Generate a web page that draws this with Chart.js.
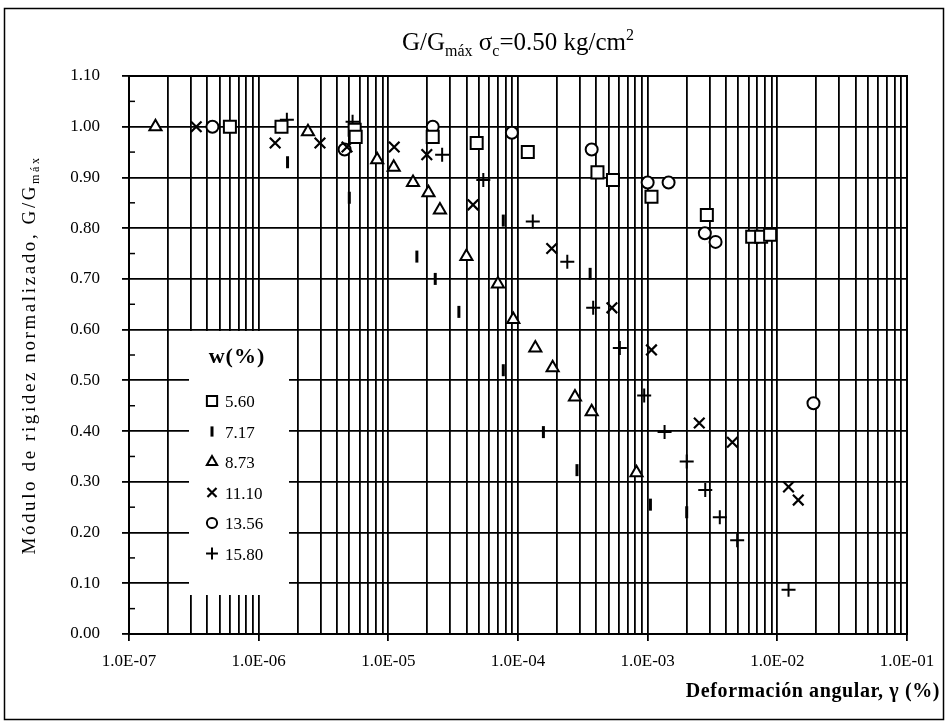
<!DOCTYPE html>
<html>
<head>
<meta charset="utf-8">
<title>G/Gmáx σc=0.50 kg/cm2</title>
<script src="https://cdn.jsdelivr.net/npm/chart.js@4.4.1/dist/chart.umd.min.js"></script>
<style>
  html, body { margin: 0; padding: 0; background: #fff; }
</style>
</head>
<body>
<canvas id="chart" width="947" height="724"></canvas>
<script>
// Values: angular strain (%) and G/Gmax, one pair per water content
const legendLabels = ["5.60", "7.17", "8.73", "11.10", "13.56", "15.80"];

const strain560 = [6.0e-7, 1.5e-6, 5.5e-6, 5.6e-6, 2.2e-5, 4.8e-5, 1.19e-4, 4.1e-4, 5.4e-4, 1.07e-3, 2.86e-3, 6.4e-3, 7.5e-3, 8.8e-3];
const ratio560  = [1.00, 1.00, 0.994, 0.98, 0.98, 0.968, 0.95, 0.91, 0.895, 0.862, 0.826, 0.783, 0.783, 0.787];

const strain717 = [1.67e-6, 5.0e-6, 1.66e-5, 2.3e-5, 3.5e-5, 7.7e-5, 7.7e-5, 1.57e-4, 3.6e-4, 2.85e-4, 1.05e-3, 2.0e-3];
const ratio717  = [0.93, 0.86, 0.744, 0.70, 0.635, 0.815, 0.52, 0.398, 0.71, 0.323, 0.255, 0.24];

const strain873 = [1.6e-7, 2.4e-6, 8.2e-6, 1.1e-5, 1.55e-5, 2.04e-5, 2.5e-5, 4.0e-5, 7.0e-5, 9.2e-5, 1.36e-4, 1.85e-4, 2.75e-4, 3.7e-4, 8.2e-4];
const ratio873  = [1.00, 0.99, 0.935, 0.92, 0.89, 0.87, 0.836, 0.744, 0.69, 0.62, 0.564, 0.525, 0.467, 0.438, 0.318];

const strain1110 = [3.3e-7, 1.34e-6, 2.97e-6, 4.8e-6, 1.11e-5, 1.98e-5, 4.5e-5, 1.82e-4, 5.3e-4, 1.07e-3, 2.5e-3, 4.5e-3, 1.22e-2, 1.45e-2];
const ratio1110  = [1.00, 0.968, 0.968, 0.96, 0.96, 0.945, 0.846, 0.76, 0.643, 0.56, 0.416, 0.378, 0.29, 0.264];

const strain1356 = [4.4e-7, 4.6e-6, 2.2e-5, 8.97e-5, 3.7e-4, 1.0e-3, 1.45e-3, 2.76e-3, 3.34e-3, 1.9e-2];
const ratio1356  = [1.00, 0.955, 1.00, 0.988, 0.955, 0.89, 0.89, 0.79, 0.773, 0.455];

const strain1580 = [1.65e-6, 5.3e-6, 2.6e-5, 5.4e-5, 1.3e-4, 2.4e-4, 3.8e-4, 6.1e-4, 9.4e-4, 1.35e-3, 2.0e-3, 2.78e-3, 3.6e-3, 4.9e-3, 1.22e-2];
const ratio1580  = [1.014, 1.01, 0.945, 0.895, 0.813, 0.734, 0.643, 0.564, 0.47, 0.398, 0.34, 0.284, 0.23, 0.185, 0.087];

const xDecades = [1e-7, 1e-6, 1e-5, 1e-4, 1e-3, 1e-2, 1e-1];

const serif = "'Liberation Serif', 'DejaVu Serif', serif";

const markerStyles = [
  { pointStyle: "rect", radius: 8.5, borderWidth: 2 },
  { pointStyle: "line", radius: 6, rotation: 90, borderWidth: 3 },
  { pointStyle: "triangle", radius: 7, borderWidth: 2 },
  { pointStyle: "crossRot", radius: 7.5, borderWidth: 2.2 },
  { pointStyle: "circle", radius: 6, borderWidth: 2 },
  { pointStyle: "cross", radius: 7, borderWidth: 2 }
];

const allStrain = [strain560, strain717, strain873, strain1110, strain1356, strain1580];
const allRatio = [ratio560, ratio717, ratio873, ratio1110, ratio1356, ratio1580];

const datasets = legendLabels.map((label, i) => ({
  label: label,
  data: allStrain[i].map((x, k) => ({ x: x, y: allRatio[i][k] })),
  showLine: false,
  pointStyle: markerStyles[i].pointStyle,
  pointRadius: markerStyles[i].radius,
  pointRotation: markerStyles[i].rotation || 0,
  pointBorderWidth: markerStyles[i].borderWidth,
  pointBorderColor: "#000",
  pointBackgroundColor: "#fff"
}));

function isDecade(v) {
  const l = Math.log10(v);
  return Math.abs(l - Math.round(l)) < 1e-9;
}

function decadeLabel(v) {
  const e = Math.round(Math.log10(v));
  const s = e < 0 ? "-" : "+";
  const a = Math.abs(e);
  return "1.0E" + s + (a < 10 ? "0" : "") + a;
}

// Draw a line of text made of normal / sub / sup parts
function drawRich(ctx, parts, x, y, size, weight, align, spacing) {
  const fontFor = p => (weight + " " + (p[1] === "n" ? size : Math.round(size * 0.62)) + "px " + serif);
  ctx.letterSpacing = (spacing || 0) + "px";
  let total = 0;
  parts.forEach(p => { ctx.font = fontFor(p); total += ctx.measureText(p[0]).width; });
  let cx = align === "center" ? x - total / 2 : (align === "right" ? x - total : x);
  ctx.textBaseline = "alphabetic";
  ctx.textAlign = "left";
  parts.forEach(p => {
    ctx.font = fontFor(p);
    let dy = 0;
    if (p[1] === "sub") dy = size * 0.22;
    if (p[1] === "sup") dy = -size * 0.42;
    ctx.fillText(p[0], cx, y + dy);
    cx += ctx.measureText(p[0]).width;
  });
  ctx.letterSpacing = "0px";
}

const decorPlugin = {
  id: "decor",
  beforeDatasetsDraw(chart) {
    const ctx = chart.ctx;
    const ya = chart.scales.y;
    const area = chart.chartArea;
    ctx.save();
    // inward half ticks on the left axis
    ctx.strokeStyle = "#000";
    ctx.lineWidth = 1.5;
    for (let v = 0.05; v < 1.1; v += 0.1) {
      const py = ya.getPixelForValue(v);
      ctx.beginPath();
      ctx.moveTo(area.left, py);
      ctx.lineTo(area.left + 6, py);
      ctx.stroke();
    }
    // legend box
    ctx.fillStyle = "#fff";
    ctx.fillRect(189, 331, 100, 264);
    ctx.fillStyle = "#000";
    drawRich(ctx, [["w(%)", "n"]], 237, 363, 22, "bold", "center", 1);
    legendLabels.forEach((label, i) => {
      const ly = 401 + i * 30.5;
      const ms = markerStyles[i];
      ctx.strokeStyle = "#000";
      ctx.fillStyle = "#fff";
      ctx.lineWidth = ms.borderWidth;
      Chart.helpers.drawPoint(ctx, {
        pointStyle: ms.pointStyle,
        radius: ms.radius * 0.85,
        rotation: ms.rotation || 0,
        borderWidth: ms.borderWidth
      }, 212, ly);
      ctx.fillStyle = "#000";
      drawRich(ctx, [[label, "n"]], 225, ly + 6, 17, "normal", "left", 0);
    });
    ctx.restore();
  },
  afterDraw(chart) {
    const ctx = chart.ctx;
    const area = chart.chartArea;
    ctx.save();
    ctx.fillStyle = "#000";
    ctx.strokeStyle = "#000";
    // plot frame
    ctx.lineWidth = 2;
    ctx.strokeRect(area.left, area.top, area.right - area.left, area.bottom - area.top);
    // outer frame
    ctx.lineWidth = 1.5;
    ctx.strokeRect(4.5, 8.5, 939, 711);
    // title
    drawRich(ctx, [["G/G", "n"], ["máx", "sub"], [" σ", "n"], ["c", "sub"], ["=0.50 kg/cm", "n"], ["2", "sup"]],
      (area.left + area.right) / 2, 50, 25, "normal", "center", 0);
    // x title
    drawRich(ctx, [["Deformación angular, γ (%)", "n"]], 940, 697, 20, "bold", "right", 0.6);
    // y title
    ctx.translate(35, (area.top + area.bottom) / 2);
    ctx.rotate(-Math.PI / 2);
    drawRich(ctx, [["Módulo de rigidez normalizado, G/G", "n"], ["máx", "sub"]], 0, 0, 19, "normal", "center", 2.6);
    ctx.restore();
  }
};

new Chart(document.getElementById("chart"), {
  type: "scatter",
  data: { datasets: datasets },
  options: {
    responsive: false,
    animation: false,
    layout: { padding: { left: 0, top: 76, right: 40, bottom: 0 } },
    plugins: {
      legend: { display: false },
      title: { display: false },
      tooltip: { enabled: false }
    },
    scales: {
      x: {
        type: "logarithmic",
        min: xDecades[0],
        max: xDecades[xDecades.length - 1],
        afterBuildTicks(scale) {
          const t = [];
          for (let d = 0; d < xDecades.length; d++) {
            for (let m = 1; m <= 9; m++) {
              if (d === xDecades.length - 1 && m > 1) break;
              t.push({ value: m * xDecades[d], major: m === 1 });
            }
          }
          scale.ticks = t;
        },
        afterFit(scale) { scale.height = 90; },
        ticks: {
          autoSkip: false,
          maxRotation: 0,
          padding: 10,
          color: "#000",
          font: { family: serif, size: 17 },
          callback: v => (isDecade(v) ? decadeLabel(v) : "")
        },
        grid: {
          color: "#000",
          lineWidth: 1.8,
          tickLength: 7,
          tickColor: c => (c.tick && isDecade(c.tick.value) ? "#000" : "rgba(0,0,0,0)")
        },
        border: { display: true, color: "#000", width: 2 }
      },
      y: {
        min: 0,
        max: 1.1,
        afterFit(scale) { scale.width = 129; },
        ticks: {
          stepSize: 0.1,
          padding: 22,
          color: "#000",
          font: { family: serif, size: 17 },
          callback: v => v.toFixed(2)
        },
        grid: { color: "#000", lineWidth: 1.8, tickLength: 7 },
        border: { display: true, color: "#000", width: 2 }
      }
    }
  },
  plugins: [decorPlugin]
});
</script>
</body>
</html>
